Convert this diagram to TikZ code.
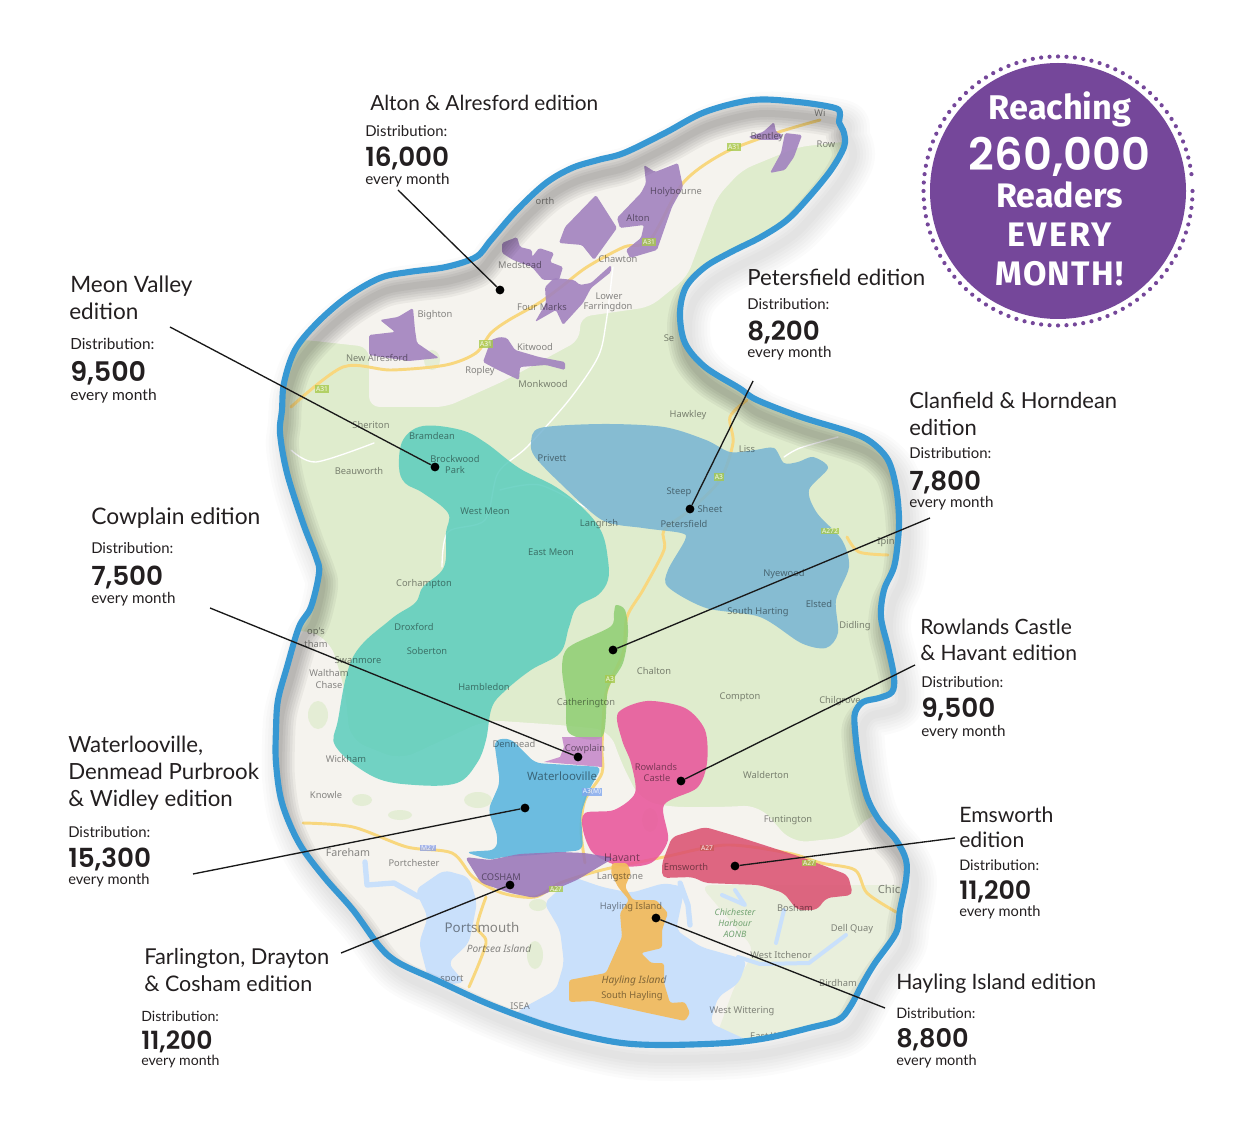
\documentclass[tikz,border=0pt]{standalone}
\usepackage{fontspec}
\setmainfont{Lato}
\newfontfamily\numfont{Poppins SemiBold}
\newfontfamily\badgefont{Fira Sans}
\newfontfamily\mapfont{Noto Sans}
\usetikzlibrary{calc}
\definecolor{bluerim}{HTML}{3798D3}
\definecolor{badge}{HTML}{75479A}
\definecolor{ink}{HTML}{231F20}
\definecolor{mapgreen}{HTML}{DFECCD}
\definecolor{mapcream}{HTML}{F5F3EE}
\definecolor{mapwater}{HTML}{C9E0FB}
\definecolor{maproad}{HTML}{F8D77E}
\definecolor{altonpurple}{HTML}{A283BF}
\definecolor{tealarea}{HTML}{5CCDBD}
\definecolor{bluearea}{HTML}{78B5D3}
\definecolor{greenarea}{HTML}{8FCE73}
\definecolor{plumarea}{HTML}{C586C9}
\definecolor{skyarea}{HTML}{56B4DE}
\definecolor{pinkarea}{HTML}{E9539A}
\definecolor{redarea}{HTML}{DB4F70}
\definecolor{violetarea}{HTML}{9774B8}
\definecolor{orangearea}{HTML}{F2BC60}
\def\outline{plot[smooth cycle,tension=.55] coordinates {
(753,100)(798,102)(835,108)(840,115)(839,122)(844,133)(844,147)(831,170)(809,197)(787,220)(761,237)(731,252)(705,267)(686,287)(680,313)(685,343)(705,367)(739,388)(757,400)(801,417)(850,432)(871,442)(888,460)(896,487)(899,517)(898,540)(894,567)(884,590)(881,617)(888,647)(894,677)(892,692)(879,698)(863,702)(855,713)(855,730)(859,763)(867,797)(879,820)(896,840)(906,860)(906,880)(900,910)(896,933)(875,963)(863,983)(850,1007)(838,1020)(809,1028)(767,1038)(726,1043)(664,1045)(622,1043)(581,1035)(539,1023)(486,1003)(436,980)(399,963)(380,947)(353,910)(324,877)(299,843)(282,803)(276,763)(276,730)(278,700)(287,667)(299,627)(311,607)(319,573)(316,557)(303,523)(287,473)(280,433)(282,410)(284,383)(295,350)(317,323)(347,297)(380,278)(409,272)(446,267)(476,257)(491,240)(517,210)(546,183)(572,168)(598,160)(624,153)(665,133)(705,112)}}
\tikzset{
 x=.75pt,y=-.75pt,
 edtitle/.style={anchor=base west,inner sep=0pt,yshift=-.75pt,text=ink,font=\fontsize{#1}{16}\selectfont},
 eddist/.style={anchor=base west,inner sep=0pt,yshift=-.75pt,text=ink,font=\fontsize{#1}{12}\selectfont},
 eddist/.default=11.2,
 ednum/.style={anchor=base west,inner sep=0pt,yshift=-.75pt,text=ink,font=\numfont\fontsize{#1}{20}\selectfont},
 ednum/.default=19.7,
 edevery/.style={anchor=base west,inner sep=0pt,yshift=-.75pt,text=ink,font=\fontsize{#1}{12}\selectfont},
 edevery/.default=11.4,
 leader/.style={draw=black!90,line width=1pt},
 pin/.style={circle,fill=black,inner sep=0pt,minimum size=6.6pt},
 badgetext/.style={inner sep=0pt,anchor=base,yshift=-.75pt,text=white},
 maplabel/.style={inner sep=0pt,text=black,text opacity=.46,font=\mapfont\fontsize{7}{8}\selectfont},
 shield/.style={inner sep=.8pt,text=white,fill opacity=.8,text opacity=.9,font=\mapfont\bfseries\fontsize{5}{6}\selectfont},
 road/.style={draw=maproad,line width=2.2pt,line cap=round,line join=round},
 minor/.style={draw=white,line width=1pt,line cap=round,line join=round},
 creek/.style={draw=mapwater,line width=4pt,line cap=round,line join=round},
 area/.style={fill opacity=.86,draw=none},
 altonarea/.style={fill=altonpurple,fill opacity=.9,draw=none,rounded corners=1.2pt},
}
\begin{document}
\begin{tikzpicture}
\useasboundingbox (0,0) rectangle (1236,1126);
\fill[white] (0,0) rectangle (1236,1126);
% outer drop shadow
\begin{scope}[shift={(8,14)}]
\foreach \w in {44,38,32,26,20,14,8}{
 \draw[black,line width=\w*.75pt,opacity=.016,line join=round] \outline;}
\end{scope}
% map
\begin{scope}
\clip \outline;
\fill[mapgreen] (250,80) rectangle (930,1070);
% cream land
\fill[mapcream,rounded corners=8pt] (270,340)--(306,340)--(369,347)--(369,407)--(446,407)--(506,380)--(580,340)--(580,317)--(650,307)--(687,277)--(717,197)--(742,170)--(798,147)--(860,140)--(860,80)--(270,80)--cycle;
\fill[mapcream,rounded corners=12pt] (260,640)--(300,628)--(330,640)--(345,690)--(350,740)--(400,760)--(486,720)--(560,725)--(610,730)--(620,760)--(640,800)--(668,807)--(726,807)--(759,805)--(792,843)--(850,837)--(871,813)--(920,813)--(920,1070)--(260,1070)--cycle;
\fill[mapgreen!55!mapcream,rounded corners=8pt] (700,885)--(905,885)--(905,1040)--(715,1040)--(735,985)--(755,950)--cycle;
\foreach \x/\y/\rx/\ry in {318/715/10/14,362/800/10/6,478/800/14/8,400/815/12/5,538/905/9/6,535/955/8/14,432/360/8/10,650/820/8/12}{
 \fill[mapgreen,opacity=.75] (\x,\y) ellipse[x radius=\rx,y radius=\ry];}
% water
\fill[mapwater,rounded corners=5pt] (544,903)--(573,877)--(602,887)--(631,893)--(664,883)--(685,887)--(676,930)--(701,947)--(747,960)--(739,983)--(718,997)--(710,1023)--(747,1040)--(780,1060)--(480,1060)--(519,1010)--(556,990)--(564,963)--(560,930)--cycle;
\fill[mapwater,rounded corners=5pt] (415,890)--(444,870)--(469,877)--(477,903)--(469,943)--(448,963)--(465,983)--(430,985)--(419,943)--(428,917)--cycle;
\draw[creek] (365,862)--(367,885)--(394,883)--(419,897);
\draw[creek] (680,883)--(688,905)--(690,925);
\draw[creek,line width=3pt] (738,957)--(760,964)--(809,963)--(846,935);
\draw[creek,line width=3pt] (776,943)--(784,910);
\draw[creek,line width=3pt] (722,895)--(745,905)--(735,890);
% minor roads
\draw[minor] plot[smooth] coordinates {(291,450)(316,462)(374,443)};
\draw[minor] plot[smooth] coordinates {(613,267)(606,323)(598,357)(569,400)(527,447)(498,473)(485,520)(448,532)(442,567)};
\draw[minor] plot[smooth] coordinates {(784,457)(800,448)(838,437)};
\draw[minor] plot[smooth] coordinates {(500,490)(540,485)(590,510)};
% major roads
\draw[road] plot[smooth,tension=.5] coordinates {(291,407)(343,367)(391,370)(446,365)(476,353)(491,333)(509,320)(539,303)(561,287)(587,267)(624,247)(650,240)(683,183)(724,153)(776,133)(820,120)};
\draw[road] plot[smooth,tension=.5] coordinates {(747,400)(730,417)(733,443)(720,480)(690,510)(664,530)(664,550)(643,590)(627,617)(623,653)(606,693)(602,747)(602,773)(585,800)(581,830)(585,863)};
\draw[road] plot[smooth,tension=.5] coordinates {(847,537)(859,552)(888,555)};
\draw[road] plot[smooth,tension=.5] coordinates {(303,823)(353,827)(407,847)(452,853)(473,877)(502,893)(535,897)(560,883)(602,870)(664,857)(726,845)(788,853)(821,863)(855,870)(867,893)(896,912)};
\draw[road] plot[smooth,tension=.5] coordinates {(486,897)(477,927)(486,943)(469,987)};
% edition areas: Alton and Alresford
\fill[altonarea] (748,137)--(763,132)--(774,122)--(776,132)--(783,135)--(779,140)--(761,140)--cycle;
\fill[altonarea] (785,133)--(802,135)--(794,157)--(785,170)--(770,173)--(781,153)--cycle;
\fill[altonarea] (644,165)--(655,172)--(678,163)--(683,187)--(672,207)--(657,250)--(630,258)--(626,250)--(641,238)--(644,225)--(620,228)--(617,218)--(641,193)--(646,183)--cycle;
\fill[altonarea] (596,195)--(617,228)--(594,260)--(582,245)--(559,243)--(565,227)--cycle;
\fill[altonarea] (502,243)--(517,237)--(520,247)--(532,250)--(532,257)--(539,248)--(554,253)--(550,262)--(563,267)--(559,280)--(543,280)--(532,267)--(513,260)--(502,253)--cycle;
\fill[altonarea] (554,278)--(574,280)--(580,285)--(591,283)--(611,265)--(611,272)--(591,288)--(583,303)--(563,325)--(556,310)--(535,322)--(546,303)--(545,287)--cycle;
\fill[altonarea] (413,308)--(415,330)--(417,343)--(439,358)--(409,361)--(369,355)--(369,335)--(395,332)--(380,320)--(398,317)--cycle;
\fill[altonarea] (500,337)--(507,338)--(515,350)--(539,357)--(565,362)--(565,370)--(546,365)--(520,367)--(519,380)--(498,370)--(483,362)--(491,340)--cycle;
% large edition areas
\fill[area,fill=tealarea] plot[smooth cycle,tension=.6] coordinates {(423,426)(461,430)(486,443)(519,468)(556,487)(585,510)(602,533)(608,560)(608,580)(598,595)(577,607)(569,627)(560,653)(531,670)(506,690)(492,707)(486,740)(477,763)(457,783)(415,785)(374,777)(336,747)(338,720)(353,657)(390,620)(415,603)(423,587)(444,567)(446,533)(448,513)(423,493)(405,483)(399,467)(403,440)};
\fill[area,fill=bluearea] plot[smooth cycle,tension=.5] coordinates {(531,443)(540,428)(602,424)(664,427)(706,440)(730,452)(755,450)(774,448)(784,463)(798,462)(813,457)(828,468)(809,490)(817,513)(842,540)(849,567)(836,600)(838,633)(826,648)(801,643)(760,617)(706,608)(668,587)(668,570)(685,540)(681,533)(643,528)(602,520)(560,483)(535,457)};
\fill[area,fill=greenarea] plot[smooth cycle,tension=.5] coordinates {(616,605)(625,610)(628,633)(623,663)(608,690)(602,737)(569,733)(566,700)(562,667)(569,647)(610,627)(614,613)};
\fill[area,fill=plumarea] (562,737)--(602,737)--(602,767)--(544,762)--(560,757)--(564,747)--cycle;
\fill[area,fill=skyarea,rounded corners=5pt] (494,740)--(510,738)--(535,763)--(602,767)--(589,790)--(581,813)--(583,850)--(535,855)--(502,857)--(490,860)--(465,852)--(496,850)--(498,837)--(488,810)--(500,783)--cycle;
\fill[area,fill=pinkarea] plot[smooth cycle,tension=.5] coordinates {(618,713)(647,701)(685,708)(705,730)(707,763)(697,788)(664,805)(668,840)(651,863)(620,866)(593,853)(583,830)(585,813)(614,810)(635,793)(631,763)(622,740)};
\fill[area,fill=redarea,rounded corners=4pt] (662,863)--(672,837)--(705,827)--(739,837)--(801,857)--(848,875)--(853,895)--(826,898)--(817,910)--(797,910)--(784,893)--(759,885)--(705,883)--(693,877)--(662,878)--cycle;
\fill[area,fill=violetarea,rounded corners=3pt] (465,857)--(490,860)--(519,854)--(560,852)--(585,853)--(614,858)--(602,865)--(577,880)--(535,898)--(510,893)--(481,883)--(473,870)--cycle;
\fill[fill=orangearea,fill opacity=.95,rounded corners=2pt] (612,863)--(627,863)--(631,873)--(625,887)--(633,900)--(656,900)--(668,913)--(662,930)--(662,948)--(641,953)--(651,963)--(664,963)--(664,983)--(670,1003)--(685,1002)--(690,1013)--(685,1021)--(643,1012)--(593,1001)--(569,1002)--(569,980)--(606,973)--(622,937)--(620,913)--(629,900)--(618,887)--(611,873)--cycle;
% shields
\foreach \x/\y/\t/\c [count=\i] in {734/147/A31/A7C94C,649/242/A31/A7C94C,486/344/A31/A7C94C,322/389/A31/A7C94C,719/477/A3/A7C94C,610/679/A3/A7C94C,830/531/A272/A7C94C,592/792/A3(M)/7FA6EE,428/848/M27/8FA3E8,707/848/A27/C95A5A,556/889/A27/A7C94C,809/863/A27/A7C94C}{
 \definecolor{shc}{HTML}{\c}
 \node[shield,fill=shc] (sh\i) at (\x,\y) {\t};}
% place names
\foreach \x/\y/\t [count=\i] in {820/113/Wi,826/144/Row,767/137/Bentley,676/192/Holybourne,638/218/Alton,545/201/orth,618/259/Chawton,520/265/Medstead,542/307/Four Marks,609/296/Lower,608/307/Farringdon,435/315/Bighton,535/347/Kitwood,377/358/New Alresford,480/371/Ropley,543/384/Monkwood,669/338/Se,688/415/Hawkley,371/425/Sheriton,432/436/Bramdean,455/459/Brockwood,455/470/Park,359/471/Beauworth,552/458/Privett,485/511/West Meon,747/449/Liss,679/492/Steep,710/509/Sheet,684/524/Petersfield,599/524/Langrish,551/552/East Meon,424/584/Corhampton,784/574/Nyewood,819/604/Elsted,758/612/South Harting,855/626/Didling,886/542/Ipin,414/627/Droxford,427/651/Soberton,316/632/op's,316/644/tham,358/660/Swanmore,329/673/Waltham,329/685/Chase,484/687/Hambledon,654/671/Chalton,586/703/Catherington,740/697/Compton,840/701/Chilgrove,514/744/Denmead,585/749/Cowplain,346/759/Wickham,326/795/Knowle,656/767/Rowlands,657/778/Castle,766/775/Walderton,788/820/Funtington,414/863/Portchester,686/867/Emsworth,620/877/Langstone,631/907/Hayling Island,795/908/Bosham,852/929/Dell Quay,781/955/West Itchenor,838/983/Birdham,742/1011/West Wittering,520/1006/ISEA,766/1036/East Wi}{
 \node[maplabel] (pl\i) at (\x,\y) {\t};}
\node[maplabel,font=\mapfont\fontsize{8.6}{10}\selectfont] (plw) at (562,776) {Waterlooville};
\node[maplabel,font=\mapfont\fontsize{8}{10}\selectfont] (plh) at (622,858) {Havant};
\node[maplabel,font=\mapfont\fontsize{8}{10}\selectfont] (plf) at (348,852) {Fareham};
\node[maplabel,font=\mapfont\fontsize{7}{8}\selectfont] (plc) at (501,877) {COSHAM};
\node[maplabel,font=\mapfont\fontsize{8.4}{10}\selectfont] (plc2) at (889,889) {Chic};
\node[maplabel,font=\mapfont\fontsize{10}{12}\selectfont] (plp) at (482,927) {Portsmouth};
\node[maplabel,font=\mapfont\itshape\fontsize{7.6}{9}\selectfont] (pls) at (499,949) {Portsea Island};
\node[maplabel,font=\mapfont\itshape\fontsize{7.6}{9}\selectfont] (plhi) at (634,981) {Hayling Island};
\node[maplabel] (plsh) at (632,996) {South Hayling};
\node[maplabel] (plport) at (452,980) {sport};
\node[maplabel,align=center,text=green!35!black!55,text opacity=1,font=\mapfont\itshape\fontsize{6.6}{8.4}\selectfont] (plch) at (735,923) {Chichester\\Harbour\\AONB};
% inner shadow along the top edges
\begin{scope}[shift={(3,14)}]
\foreach \w in {32,27,22,17,12,7}{
 \draw[black,line width=\w*.75pt,opacity=.045,line join=round] \outline;}
\end{scope}
\end{scope}
% rim
\draw[bluerim,line width=4.6pt,line join=round] \outline;
% pins
\node[pin] (dalton) at (500,290) {};
\node[pin] (dmeon) at (435,467) {};
\node[pin] (dpeter) at (690,509) {};
\node[pin] (dclan) at (613,650) {};
\node[pin] (dcow) at (578,757) {};
\node[pin] (drow) at (681,781) {};
\node[pin] (dwat) at (525,808) {};
\node[pin] (dems) at (735,866) {};
\node[pin] (dfar) at (510,885) {};
\node[pin] (dhay) at (656,918) {};
% leader free ends
\coordinate (lalton) at (398,190);
\coordinate (lmeon) at (170,327);
\coordinate (lpeter) at (753,381);
\coordinate (lclan) at (930,518);
\coordinate (lcow) at (210,608);
\coordinate (lrow) at (915,665);
\coordinate (lwat) at (193,874);
\coordinate (lems) at (955,838);
\coordinate (lfar) at (341,953);
\coordinate (lhay) at (885,1008);
\draw[leader] (lalton)--(dalton);
\draw[leader] (lmeon)--(dmeon);
\draw[leader] (lpeter)--(dpeter);
\draw[leader] (lclan)--(dclan);
\draw[leader] (lcow)--(dcow);
\draw[leader] (lrow)--(drow);
\draw[leader] (lwat)--(dwat);
\draw[leader] (lems)--(dems);
\draw[leader] (lfar)--(dfar);
\draw[leader] (lhay)--(dhay);
% labels
\node[edtitle=15.6] (t1) at (370,110) {Alton \& Alresford edition};
\node[eddist] (d1) at (365,136) {Distribution:};
\node[ednum] (n1) at (365,166) {16,000};
\node[edevery] (e1) at (365,184) {every month};
\node[edtitle=16.9] (t2) at (70,292) {Meon Valley};
\node[edtitle=16.9] (t2b) at (69,319) {edition};
\node[eddist=11.5] (d2) at (70,349) {Distribution:};
\node[ednum=20.2] (n2) at (70,381) {9,500};
\node[edevery=11.7] (e2) at (70,400) {every month};
\node[edtitle=16.7] (t3) at (747,285) {Petersfield edition};
\node[eddist] (d3) at (747,309) {Distribution:};
\node[ednum] (n3) at (747,340) {8,200};
\node[edevery] (e3) at (747,357) {every month};
\node[edtitle=16.5] (t4) at (909,408) {Clanfield \& Horndean};
\node[edtitle=16.5] (t4b) at (909,435) {edition};
\node[eddist] (d4) at (909,458) {Distribution:};
\node[ednum] (n4) at (909,490) {7,800};
\node[edevery] (e4) at (909,507) {every month};
\node[edtitle=17.1] (t5) at (91,524) {Cowplain edition};
\node[eddist] (d5) at (91,553) {Distribution:};
\node[ednum] (n5) at (91,585) {7,500};
\node[edevery] (e5) at (91,603) {every month};
\node[edtitle=15.8] (t6) at (920,634) {Rowlands Castle};
\node[edtitle=15.8] (t6b) at (920,660) {\& Havant edition};
\node[eddist] (d6) at (921,686) {Distribution:};
\node[ednum] (n6) at (921,717) {9,500};
\node[edevery] (e6) at (921,735) {every month};
\node[edtitle=16.7] (t7) at (68,752) {Waterlooville,};
\node[edtitle=16.7] (t7b) at (68,778) {Denmead Purbrook};
\node[edtitle=16.7] (t7c) at (68,805) {\& Widley edition};
\node[eddist] (d7) at (68,836) {Distribution:};
\node[ednum] (n7) at (68,866) {15,300};
\node[edevery=11] (e7) at (68,883) {every month};
\node[edtitle=15.9] (t8) at (959,821) {Emsworth};
\node[edtitle=15.9] (t8b) at (959,846) {edition};
\node[eddist=10.9] (d8) at (959,869) {Distribution:};
\node[ednum=19] (n8) at (959,898) {11,200};
\node[edevery=11] (e8) at (959,915) {every month};
\node[edtitle=16.4] (t9) at (144,963) {Farlington, Drayton};
\node[edtitle=16.1] (t9b) at (144,990) {\& Cosham edition};
\node[eddist=10.6] (d9) at (141,1020) {Distribution:};
\node[ednum=18.8] (n9) at (141,1048) {11,200};
\node[edevery=10.6] (e9) at (141,1064) {every month};
\node[edtitle=15.9] (t10) at (896,988) {Hayling Island edition};
\node[eddist=10.8] (d10) at (896,1017) {Distribution:};
\node[ednum=19.2] (n10) at (896,1046) {8,800};
\node[edevery=10.9] (e10) at (896,1064) {every month};
% badge
\foreach \a in {0,3.6,...,356.4}{
 \fill[badge] (1058,191) ++(\a:134.5) circle[radius=2.1];}
\node[circle,fill=badge,minimum size=192pt,inner sep=0pt] (badgedisc) at (1058,191) {};
\node[badgetext,font=\badgefont\bfseries\fontsize{25.7}{25}\selectfont] (b1) at (1060,119) {Reaching};
\node[badgetext,font=\numfont\fontsize{33.6}{33}\selectfont] (b2) at (1059.5,170) {260,000};
\node[badgetext,font=\badgefont\bfseries\fontsize{25.5}{25}\selectfont] (b3) at (1059.5,207) {Readers};
\node[badgetext,font=\badgefont\bfseries\fontsize{25.5}{25}\addfontfeature{LetterSpace=7}\selectfont] (b4) at (1059.5,246) {EVERY};
\node[badgetext,font=\badgefont\bfseries\fontsize{25.5}{25}\addfontfeature{LetterSpace=3.5}\selectfont] (b5) at (1059.5,285) {MONTH!};
\end{tikzpicture}
\end{document}
